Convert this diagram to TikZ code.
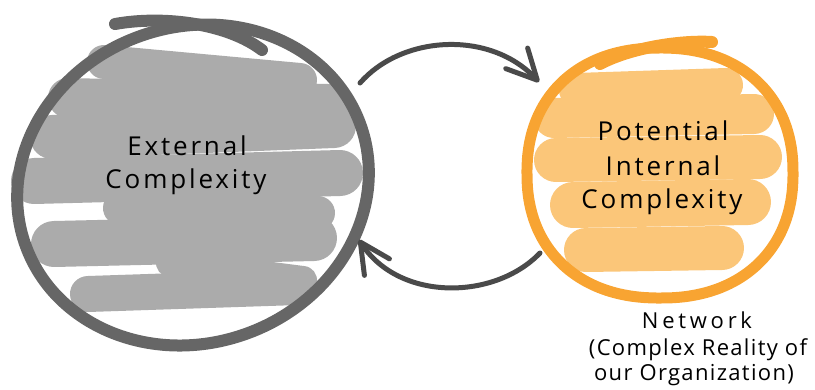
\documentclass[tikz,border=0pt]{standalone}
\usepackage{fontspec}
\setmainfont{Open Sans}
\usetikzlibrary{arrows.meta}
\definecolor{ringgray}{HTML}{666666}
\definecolor{fillgray}{HTML}{ABABAB}
\definecolor{arrowgray}{HTML}{4A4A4A}
\definecolor{ringorange}{HTML}{F8A432}
\definecolor{fillorange}{HTML}{FBC679}
\tikzset{
  band/.style={line width=#1, line cap=round},
  ringline/.style={line width=12pt, line join=round},
  overstroke/.style={line width=12pt, line cap=round},
  flow/.style={draw=arrowgray, line width=5pt, line cap=round,
    -{Straight Barb[length=30pt, width=30pt, round]}},
  lbl/.style={font=\fontsize{26}{34}\selectfont\addfontfeatures{LetterSpace=11}, text=black, anchor=base, inner sep=0pt},
  netlbl/.style={font=\fontsize{22}{26}\selectfont\addfontfeatures{LetterSpace=17}, text=black, anchor=base, inner sep=0pt},
  sublbl/.style={font=\fontsize{22}{26}\selectfont\addfontfeatures{LetterSpace=6}, text=black, anchor=base, inner sep=0pt}
}
\begin{document}
\begin{tikzpicture}[x=1pt,y=-1pt]
\useasboundingbox (0,0) rectangle (815,389);
% gray scribble bands
\begin{scope}[fillgray]
\draw[band=34pt] (104,62) -- (300,80);
\draw[band=40pt] (68,98) -- (328,104);
\draw[band=44pt] (52,137) -- (334,126);
\draw[band=46pt] (34,181) -- (340,173);
\draw[band=34pt] (120,208) -- (318,213);
\draw[band=46pt] (54,244) -- (314,238);
\draw[band=28pt] (170,263) -- (303,280);
\draw[band=36pt] (88,294) -- (298,287);
\end{scope}
% orange scribble bands
\begin{scope}[fillorange]
\draw[band=34pt] (576,90) -- (726,85);
\draw[band=40pt] (554,118) -- (754,114);
\draw[band=44pt] (556,160) -- (760,157);
\draw[band=46pt] (573,205) -- (748,202);
\draw[band=44pt] (586,250) -- (722,248);
\end{scope}
% left ring (slightly tilted ellipse)
\coordinate (lc) at (193,185);
\draw[ringline, ringgray, rotate around={20:(lc)}] (lc) ellipse [x radius=178, y radius=158];
\draw[overstroke, ringgray] (115,24) .. controls (165,15) and (228,24) .. (262,50);
% right ring (rounded superellipse)
\draw[ringline, line width=11pt, ringorange] plot[smooth cycle, domain=1:356, samples=72]
  ({660+133*sign(cos(\x))*abs(cos(\x))^(0.9)}, {173+125*sign(sin(\x))*abs(sin(\x))^(0.9)});
\draw[overstroke, ringorange] (600,64) .. controls (630,48) and (680,40) .. (712,42);
% arrows
\coordinate (u1) at (360,83);
\coordinate (u2) at (539,82);
\coordinate (d1) at (540,253);
\coordinate (d2) at (359,240);
\draw[flow] (u1) .. controls (402,35) and (490,30) .. (u2);
\draw[flow] (d1) .. controls (495,300) and (400,302) .. (d2);
% labels
\node[lbl] (ext1) at (187,155) {External};
\node[lbl] (ext2) at (186,188) {Complexity};
\node[lbl] (int1) at (663,140) {Potential};
\node[lbl] (int2) at (663,175) {Internal};
\node[lbl] (int3) at (662,208) {Complexity};
\node[netlbl] (net) at (697,328) {Network};
\node[sublbl] (net2) at (698,355) {(Complex Reality of};
\node[sublbl] (net3) at (694,380) {our Organization)};
\end{tikzpicture}
\end{document}
